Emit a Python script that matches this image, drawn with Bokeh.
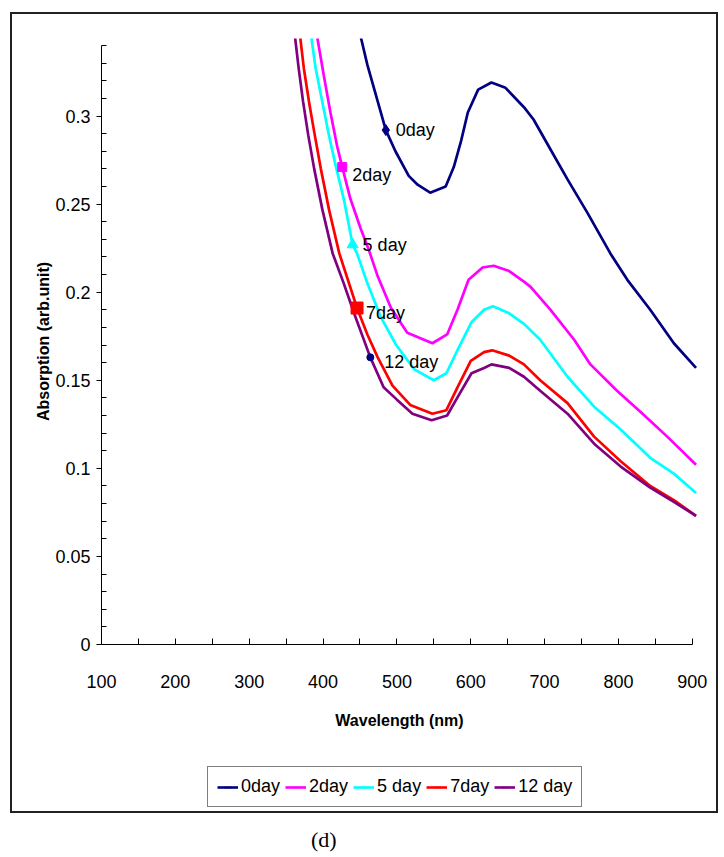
from bokeh.plotting import figure
from bokeh.layouts import column
from bokeh.models import (Range1d, FixedTicker, NumeralTickFormatter, Legend,
                          LegendItem, Label, Div)
from bokeh.embed import file_html
from bokeh.resources import INLINE

# ---------------- data ----------------
wl_0 = [451, 460, 485, 498, 516, 528, 545, 566, 577, 587, 596, 610, 628, 647,
        672, 685, 708, 731, 758, 789, 812, 843, 875, 905]
ab_0 = [0.345, 0.329, 0.292, 0.280, 0.266, 0.261, 0.2565, 0.260, 0.271, 0.286,
        0.302, 0.315, 0.319, 0.316, 0.305, 0.298, 0.281, 0.264, 0.245, 0.222,
        0.207, 0.190, 0.171, 0.157]

wl_2 = [392, 401, 410, 419, 426, 437, 451, 462, 474, 492, 514, 548, 568, 582,
        597, 616, 631, 652, 672, 681, 708, 740, 762, 798, 830, 866, 905]
ab_2 = [0.345, 0.323, 0.302, 0.283, 0.271, 0.253, 0.236, 0.224, 0.209, 0.191,
        0.177, 0.171, 0.176, 0.190, 0.207, 0.214, 0.215, 0.212, 0.206, 0.203,
        0.190, 0.173, 0.159, 0.144, 0.132, 0.118, 0.102]

wl_5 = [384, 390, 399, 408, 417, 428, 440, 446, 460, 478, 499, 524, 550, 567,
        583, 601, 618, 630, 652, 672, 694, 731, 767, 803, 843, 875, 905]
ab_5 = [0.345, 0.327, 0.308, 0.289, 0.272, 0.253, 0.227, 0.222, 0.205, 0.186,
        0.170, 0.156, 0.150, 0.154, 0.168, 0.183, 0.190, 0.192, 0.188, 0.182,
        0.173, 0.152, 0.135, 0.122, 0.106, 0.097, 0.086]

wl_7 = [369, 374, 381, 388, 397, 408, 422, 446, 460, 474, 494, 518, 548, 567,
        582, 600, 618, 629, 652, 672, 694, 731, 767, 803, 843, 875, 905]
ab_7 = [0.345, 0.327, 0.308, 0.291, 0.270, 0.247, 0.222, 0.191, 0.176, 0.163,
        0.147, 0.136, 0.131, 0.133, 0.146, 0.161, 0.166, 0.167, 0.164, 0.159,
        0.150, 0.137, 0.118, 0.104, 0.090, 0.082, 0.073]

wl_12 = [362, 367, 373, 380, 388, 399, 413, 428, 442, 464, 482, 500, 521, 547,
         568, 583, 601, 618, 628, 652, 672, 694, 731, 767, 803, 843, 875, 905]
ab_12 = [0.345, 0.327, 0.308, 0.289, 0.270, 0.247, 0.222, 0.205, 0.188, 0.163,
         0.146, 0.139, 0.131, 0.1273, 0.130, 0.141, 0.154, 0.157, 0.159, 0.157,
         0.152, 0.144, 0.131, 0.114, 0.101, 0.089, 0.081, 0.073]

series_names = ["0day", "2day", "5 day", "7day", "12 day"]

# labelled points on each curve
label_wl = [485, 426, 440, 446, 464]
label_ab = [0.292, 0.271, 0.227, 0.191, 0.163]

x_ticks = [100, 200, 300, 400, 500, 600, 700, 800, 900]
x_minor = [150, 250, 350, 450, 550, 650, 750, 850]
y_ticks = [0, 0.05, 0.1, 0.15, 0.2, 0.25, 0.3]
y_minor = [0.01, 0.02, 0.03, 0.04, 0.06, 0.07, 0.08, 0.09, 0.11, 0.12, 0.13,
           0.14, 0.16, 0.17, 0.18, 0.19, 0.21, 0.22, 0.23, 0.24, 0.26, 0.27,
           0.28, 0.29, 0.31, 0.32, 0.33, 0.34]

# ---------------- styles ----------------
colors = ["#000080", "#FF00FF", "#00FFFF", "#FF0000", "#800080"]
mk_types = ["diamond", "square", "triangle", "square", "circle"]
mk_sizes = [11, 9, 11, 12, 7]
mk_colors = ["#000080", "#FF00FF", "#00FFFF", "#FF0000", "#000080"]
lab_dx = [10, 10, 10, 9, 14]
lab_dy = [0, 8, 0, 5, 5]
FONT = "Liberation Sans"

p = figure(width=704, height=726, output_backend="svg", toolbar_location=None,
           x_range=Range1d(100, 907), y_range=Range1d(0, 0.344),
           min_border_left=89, min_border_right=19, min_border_top=24,
           min_border_bottom=96)
p.xgrid.visible = False
p.ygrid.visible = False
p.outline_line_color = None
p.background_fill_color = "white"
p.border_fill_color = "white"

wls = [wl_0, wl_2, wl_5, wl_7, wl_12]
abs_ = [ab_0, ab_2, ab_5, ab_7, ab_12]
for wl, ab, c in zip(wls, abs_, colors):
    p.line(wl, ab, line_color=c, line_width=2.7)

for i in range(5):
    p.scatter([label_wl[i]], [label_ab[i]], marker=mk_types[i], size=mk_sizes[i],
              fill_color=mk_colors[i], line_color=mk_colors[i])
    p.add_layout(Label(x=label_wl[i], y=label_ab[i], text=series_names[i],
                       x_offset=lab_dx[i], y_offset=-lab_dy[i],
                       text_align="left", text_baseline="middle",
                       text_font=FONT, text_font_size="18px",
                       text_color="black"))

# x axis
xa = p.xaxis[0]
xa.bounds = (100, 900)
xa.ticker = FixedTicker(ticks=x_ticks, minor_ticks=x_minor)
xa.major_tick_in = 6
xa.major_tick_out = 0
xa.minor_tick_in = 6
xa.minor_tick_out = 0
xa.axis_line_color = "black"
xa.major_tick_line_color = "black"
xa.minor_tick_line_color = "black"
xa.major_label_text_font = FONT
xa.major_label_text_font_size = "18px"
xa.major_label_text_color = "black"
xa.major_label_standoff = 30
xa.axis_label = "Wavelength (nm)"
xa.axis_label_text_font = FONT
xa.axis_label_text_font_style = "bold"
xa.axis_label_text_font_size = "16px"
xa.axis_label_text_color = "black"
xa.axis_label_standoff = 21

# y axis
ya = p.yaxis[0]
ya.bounds = (0, 0.34)
ya.ticker = FixedTicker(ticks=y_ticks, minor_ticks=y_minor)
ya.formatter = NumeralTickFormatter(format="0.[00]")
ya.major_tick_in = 0
ya.major_tick_out = 5
ya.minor_tick_in = 5
ya.minor_tick_out = 0
ya.axis_line_color = "black"
ya.major_tick_line_color = "black"
ya.minor_tick_line_color = "black"
ya.major_label_text_font = FONT
ya.major_label_text_font_size = "18px"
ya.major_label_text_color = "black"
ya.major_label_standoff = 6
ya.axis_label = "Absorption (arb.unit)"
ya.axis_label_text_font = FONT
ya.axis_label_text_font_style = "bold"
ya.axis_label_text_font_size = "16px"
ya.axis_label_text_color = "black"
ya.axis_label_standoff = 0

# legend strip (own small figure; its ranges keep the series out of view,
# so only the legend is seen)
q = figure(width=704, height=71, output_backend="svg", toolbar_location=None,
           x_range=Range1d(0, 1), y_range=Range1d(0, 1),
           x_axis_location=None, y_axis_location=None, min_border=0)
q.grid.visible = False
q.outline_line_color = None
q.border_fill_color = "white"
items = []
for n, wl, ab, c in zip(series_names, wls, abs_, colors):
    rl = q.line(wl, ab, line_color=c, line_width=2.6)
    rm = q.scatter(wl, ab, marker="dash", angle=1.5708, size=5, line_color=c,
                   line_width=1.5)
    items.append(LegendItem(label=n, renderers=[rl, rm]))
legend = Legend(items=items, orientation="horizontal", location=(106, 4),
                border_line_color="black", border_line_width=1,
                label_text_font=FONT, label_text_font_size="18px",
                label_text_color="black",
                glyph_width=21, glyph_height=18, label_standoff=3,
                spacing=5, padding=9, margin=0)
q.add_layout(legend)

boxed = column(p, q, spacing=0, styles={"border": "2px solid #222222"})

cap = Div(text='<div style="font-family: \'Liberation Serif\', serif; font-size: 22px; '
               'color: black; padding-left: 296px; padding-top: 6px;">(d)</div>',
          width=704, height=34)

layout = column(boxed, cap, spacing=0,
                styles={"margin-left": "10px", "margin-top": "12px"})
open("out.html", "w").write(file_html(layout, INLINE))
